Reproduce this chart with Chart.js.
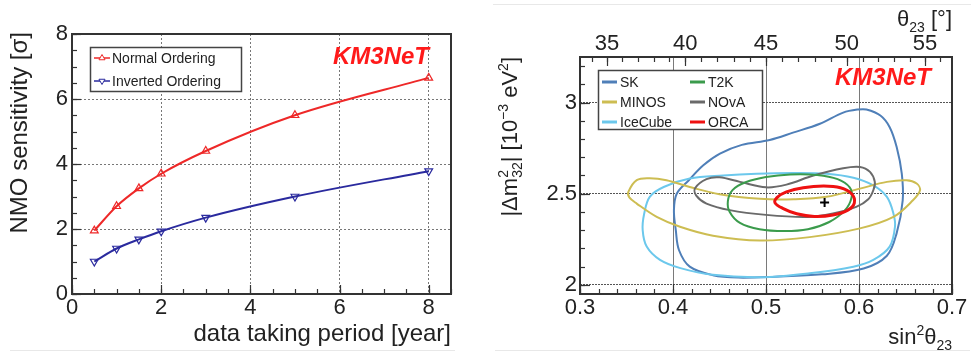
<!DOCTYPE html>
<html>
<head>
<meta charset="utf-8">
<script src="https://cdn.jsdelivr.net/npm/chart.js@4.4.1/dist/chart.umd.min.js"></script>
<style>
  body { margin: 0; background: #fff; }
  canvas { position: absolute; top: 0; }
  #left { left: 0; }
  #right { left: 490px; }
  .edge { position: absolute; height: 1px; background: #e8e8e8; }
</style>
</head>
<body>
<div class="edge" style="left:493px;top:4px;width:478px"></div>
<div class="edge" style="left:10px;top:350px;width:445px"></div>
<div class="edge" style="left:495px;top:350px;width:475px"></div>
<canvas id="left" width="490" height="355"></canvas>
<canvas id="right" width="487" height="355"></canvas>
<script>
// left panel: NMO sensitivity vs. time
var years = [0.5, 1, 1.5, 2, 3, 5, 8]
var normalOrdering = [1.95, 2.7, 3.25, 3.7, 4.4, 5.5, 6.65]
var invertedOrdering = [1.0, 1.4, 1.68, 1.93, 2.35, 3.0, 3.78]
var yearTicks = [0, 2, 4, 6, 8]
var sigmaTicks = [0, 2, 4, 6, 8]

// right panel: contours in (sin2 theta23, dm2_32)
var sinTicks = [0.3, 0.4, 0.5, 0.6, 0.7]
var dm2Ticks = [2, 2.5, 3]
var thetaTicks = [35, 40, 45, 50, 55]
var skContour = [[0.599,2.962],[0.608,2.962],[0.623,2.929],[0.633,2.865],[0.6405,2.756],[0.646,2.61],[0.647,2.464],[0.6405,2.284],[0.63,2.16],[0.605,2.09],[0.56,2.058],[0.51,2.045],[0.47,2.04],[0.443,2.053],[0.418,2.10],[0.4065,2.19],[0.403,2.30],[0.401,2.41],[0.404,2.50],[0.417,2.574],[0.4326,2.656],[0.4505,2.72],[0.474,2.768],[0.504,2.795],[0.529,2.835],[0.558,2.884],[0.583,2.945]]
var minosContour = [[0.352,2.51],[0.361,2.575],[0.375,2.585],[0.393,2.574],[0.418,2.537],[0.45,2.497],[0.4935,2.472],[0.53,2.47],[0.565,2.483],[0.601,2.528],[0.63,2.565],[0.651,2.574],[0.662,2.556],[0.6656,2.519],[0.658,2.464],[0.637,2.373],[0.601,2.31],[0.547,2.262],[0.4935,2.243],[0.443,2.27],[0.4075,2.319],[0.3825,2.373],[0.361,2.446],[0.353,2.48]]
var iceCubeContour = [[0.3674,2.30],[0.369,2.39],[0.375,2.483],[0.39,2.537],[0.418,2.583],[0.454,2.60],[0.49,2.61],[0.529,2.614],[0.565,2.61],[0.594,2.588],[0.6154,2.546],[0.63,2.483],[0.637,2.392],[0.6387,2.319],[0.633,2.21],[0.6154,2.137],[0.594,2.10],[0.547,2.064],[0.4935,2.042],[0.443,2.055],[0.408,2.092],[0.386,2.137],[0.3717,2.21]]
var t2kContour = [[0.459,2.46],[0.464,2.52],[0.478,2.563],[0.5,2.592],[0.526,2.606],[0.555,2.603],[0.577,2.58],[0.59,2.535],[0.592,2.48],[0.585,2.41],[0.568,2.345],[0.545,2.305],[0.52,2.295],[0.493,2.305],[0.472,2.34],[0.461,2.40]]
var novaContour = [[0.4237,2.53],[0.436,2.58],[0.45,2.59],[0.472,2.565],[0.5,2.535],[0.522,2.55],[0.551,2.60],[0.583,2.64],[0.601,2.647],[0.6118,2.62],[0.617,2.565],[0.6154,2.519],[0.61,2.47],[0.597,2.428],[0.572,2.392],[0.544,2.373],[0.5,2.384],[0.461,2.41],[0.436,2.446],[0.425,2.49]]
var orcaContour = [[0.5097,2.45],[0.512,2.48],[0.522,2.51],[0.54,2.533],[0.562,2.542],[0.58,2.533],[0.592,2.5],[0.595,2.45],[0.588,2.41],[0.572,2.383],[0.552,2.375],[0.533,2.39],[0.518,2.42]]
var bestFit = [0.563, 2.452]

var font = "'Liberation Sans', Arial, sans-serif"
var ink = '#222'
Chart.defaults.font.family = font
Chart.defaults.color = ink

function steps(a, b, s) {
  var r = []
  for (var v = a; v <= b + 1e-9; v += s) r.push(+v.toFixed(4))
  return r
}
function fixTicks(list) {
  return function (scale) { scale.ticks = list.map(function (v) { return {value: v} }) }
}
function sin2(deg) { var s = Math.sin(deg * Math.PI / 180); return s * s }

// smooth closed curve: wrap three points and hide the two segments with wrong end tangents
function closedLoop(pts) {
  var n = pts.length
  var all = pts.concat([pts[0], pts[1], pts[2]])
  return {
    data: all.map(function (p) { return {x: p[0], y: p[1]} }),
    hide: function (c) { return (c.p0DataIndex === 0 || c.p0DataIndex === n + 1) ? 'rgba(0,0,0,0)' : undefined }
  }
}

function layoutRich(ctx, parts) {
  var x = 0, pending = 0, out = []
  parts.forEach(function (p) {
    ctx.font = p.s + 'px ' + font
    var w = ctx.measureText(p.t).width
    out.push({p: p, x: x})
    if (p.keep) pending = w
    else { x += Math.max(w, pending); pending = 0 }
  })
  return {items: out, width: x}
}
// right aligned rich text, baseline at (x, y)
function drawRich(ctx, parts, x, y, angle) {
  ctx.save()
  ctx.translate(x, y)
  ctx.rotate(angle || 0)
  ctx.textAlign = 'left'
  ctx.textBaseline = 'alphabetic'
  ctx.fillStyle = ink
  var l = layoutRich(ctx, parts)
  l.items.forEach(function (it) {
    ctx.font = it.p.s + 'px ' + font
    ctx.fillText(it.p.t, it.x - l.width, it.p.dy || 0)
  })
  ctx.restore()
}

function inwardTicks(chart, list) {
  var ctx = chart.ctx, a = chart.chartArea
  ctx.save()
  ctx.strokeStyle = '#333'
  ctx.lineWidth = 1.2
  list.forEach(function (t) {
    var sc = chart.scales[t.scale]
    t.values.forEach(function (v) {
      var p = Math.round(sc.getPixelForValue(v)) + 0.5
      ctx.beginPath()
      if (t.side === 'bottom') { ctx.moveTo(p, a.bottom); ctx.lineTo(p, a.bottom - t.len) }
      if (t.side === 'top') { ctx.moveTo(p, a.top); ctx.lineTo(p, a.top + t.len) }
      if (t.side === 'left') { ctx.moveTo(a.left, p); ctx.lineTo(a.left + t.len, p) }
      ctx.stroke()
    })
  })
  ctx.restore()
}

function drawFrame(chart) {
  var ctx = chart.ctx, a = chart.chartArea
  ctx.save()
  ctx.strokeStyle = '#333'
  ctx.lineWidth = 2
  ctx.strokeRect(a.left, a.top, a.right - a.left, a.bottom - a.top)
  ctx.restore()
}

function brand(ctx, x, y) {
  ctx.save()
  ctx.font = 'italic bold 24px ' + font
  ctx.fillStyle = '#ff1a1a'
  ctx.textAlign = 'left'
  ctx.textBaseline = 'middle'
  ctx.fillText('KM3NeT', x, y)
  ctx.restore()
}

var normalColor = '#ee2828'
var invertedColor = '#2a2a9e'

var leftDecor = {
  id: 'leftDecor',
  afterDraw: function (chart) {
    var ctx = chart.ctx
    inwardTicks(chart, [
      {scale: 'x', side: 'bottom', values: steps(0, 8.5, 0.5), len: 5},
      {scale: 'x', side: 'bottom', values: yearTicks, len: 9},
      {scale: 'y', side: 'left', values: steps(0, 8, 0.5), len: 5},
      {scale: 'y', side: 'left', values: sigmaTicks, len: 9}
    ])
    drawFrame(chart)

    // legend
    ctx.save()
    ctx.fillStyle = '#fff'
    ctx.fillRect(90, 47, 152, 45)
    ctx.strokeStyle = '#444'
    ctx.lineWidth = 1.5
    ctx.strokeRect(90.5, 47.5, 151, 44)
    var rows = [58, 81]
    chart.data.datasets.forEach(function (ds, i) {
      var y = rows[i]
      ctx.strokeStyle = ds.borderColor
      ctx.lineWidth = 1.5
      ctx.beginPath(); ctx.moveTo(94, y); ctx.lineTo(110, y); ctx.stroke()
      ctx.fillStyle = '#fff'
      ctx.lineWidth = 1
      Chart.helpers.drawPoint(ctx, {pointStyle: 'triangle', radius: 3.5, rotation: ds.pointRotation, borderWidth: 1}, 102, y)
      ctx.fillStyle = ink
      ctx.font = '14px ' + font
      ctx.textAlign = 'left'
      ctx.textBaseline = 'middle'
      ctx.fillText(ds.label, 112, y + 1)
    })
    ctx.restore()

    brand(ctx, 333, 57)

    ctx.save()
    ctx.fillStyle = ink
    ctx.font = '24px ' + font
    ctx.textAlign = 'right'
    ctx.textBaseline = 'alphabetic'
    ctx.fillText('data taking period [year]', 451, 341)
    ctx.translate(27, 32)
    ctx.rotate(-Math.PI / 2)
    ctx.fillText('NMO sensitivity [\u03c3]', 0, 0)
    ctx.restore()
  }
}

new Chart(document.getElementById('left').getContext('2d'), {
  type: 'scatter',
  data: {
    datasets: [{
      label: 'Normal Ordering',
      data: years.map(function (x, i) { return {x: x, y: normalOrdering[i]} }),
      showLine: true,
      borderColor: normalColor,
      borderWidth: 2,
      cubicInterpolationMode: 'monotone',
      pointStyle: 'triangle',
      pointRadius: 4.5,
      pointRotation: 0,
      pointBorderWidth: 1.2,
      pointBorderColor: normalColor,
      pointBackgroundColor: 'rgba(255,255,255,0)'
    }, {
      label: 'Inverted Ordering',
      data: years.map(function (x, i) { return {x: x, y: invertedOrdering[i]} }),
      showLine: true,
      borderColor: invertedColor,
      borderWidth: 2,
      cubicInterpolationMode: 'monotone',
      pointStyle: 'triangle',
      pointRadius: 4.5,
      pointRotation: 180,
      pointBorderWidth: 1.2,
      pointBorderColor: invertedColor,
      pointBackgroundColor: 'rgba(255,255,255,0)'
    }]
  },
  options: {
    responsive: false,
    animation: false,
    events: [],
    layout: {padding: {top: 34, right: 39, left: 0, bottom: 0}},
    plugins: {legend: {display: false}, tooltip: {enabled: false}},
    scales: {
      x: {
        type: 'linear', min: 0, max: 8.5,
        afterBuildTicks: fixTicks(yearTicks),
        afterFit: function (s) { s.height = 61 },
        grid: {color: '#777', lineWidth: 1, drawTicks: false},
        border: {display: false, dash: [2, 2]},
        ticks: {font: {size: 22}, padding: 1, maxRotation: 0, autoSkip: false, callback: function (v) { return String(v) }}
      },
      y: {
        type: 'linear', min: 0, max: 8,
        afterBuildTicks: fixTicks(sigmaTicks),
        afterFit: function (s) { s.width = 72 },
        grid: {color: '#777', lineWidth: 1, drawTicks: false},
        border: {display: false, dash: [2, 2]},
        ticks: {font: {size: 22}, padding: 4, autoSkip: false, callback: function (v) { return String(v) }}
      }
    }
  },
  plugins: [leftDecor]
})

var contours = [
  {label: 'ORCA', pts: orcaContour, color: '#ee1111', width: 3},
  {label: 'T2K', pts: t2kContour, color: '#3b9b4c', width: 2},
  {label: 'NOvA', pts: novaContour, color: '#6a6a6a', width: 2},
  {label: 'MINOS', pts: minosContour, color: '#cdbd52', width: 2},
  {label: 'IceCube', pts: iceCubeContour, color: '#6cc8ec', width: 2},
  {label: 'SK', pts: skContour, color: '#4f7fb8', width: 2}
]
var legendSlots = {SK: [0, 0], MINOS: [0, 1], IceCube: [0, 2], T2K: [1, 0], NOvA: [1, 1], ORCA: [1, 2]}

var rightDatasets = [{
  label: 'best fit',
  data: [{x: bestFit[0], y: bestFit[1]}],
  pointStyle: 'cross',
  pointRadius: 4.5,
  pointBorderWidth: 2,
  pointBorderColor: '#000',
  showLine: false
}].concat(contours.map(function (c) {
  var loop = closedLoop(c.pts)
  return {
    label: c.label,
    data: loop.data,
    showLine: true,
    tension: 0.35,
    borderColor: c.color,
    borderWidth: c.width,
    pointRadius: 0,
    segment: {borderColor: loop.hide}
  }
}))

var rightDecor = {
  id: 'rightDecor',
  afterDraw: function (chart) {
    var ctx = chart.ctx
    inwardTicks(chart, [
      {scale: 'x', side: 'bottom', values: steps(0.3, 0.7, 0.02), len: 5},
      {scale: 'x', side: 'bottom', values: sinTicks, len: 10},
      {scale: 'x2', side: 'top', values: steps(34, 56, 1).map(sin2), len: 5},
      {scale: 'x2', side: 'top', values: thetaTicks.map(sin2), len: 9},
      {scale: 'y', side: 'left', values: steps(2, 3.2, 0.1), len: 5},
      {scale: 'y', side: 'left', values: dm2Ticks, len: 10}
    ])
    drawFrame(chart)

    // legend
    ctx.save()
    ctx.fillStyle = '#fff'
    ctx.fillRect(108, 70, 165, 60)
    ctx.strokeStyle = '#444'
    ctx.lineWidth = 1.5
    ctx.strokeRect(108.5, 70.5, 164, 59)
    var colX = [[112, 127, 130], [200, 215, 218]]
    var rowY = [82, 102, 122]
    contours.forEach(function (c) {
      var slot = legendSlots[c.label]
      var cx = colX[slot[0]], y = rowY[slot[1]]
      ctx.strokeStyle = c.color
      ctx.lineWidth = 3
      ctx.beginPath(); ctx.moveTo(cx[0], y); ctx.lineTo(cx[1], y); ctx.stroke()
      ctx.fillStyle = ink
      ctx.font = '14px ' + font
      ctx.textAlign = 'left'
      ctx.textBaseline = 'middle'
      ctx.fillText(c.label, cx[2], y + 1)
    })
    ctx.restore()

    brand(ctx, 345, 78)

    drawRich(ctx, [
      {t: 'sin', s: 22}, {t: '2', s: 14, dy: -9}, {t: '\u03b8', s: 22}, {t: '23', s: 14, dy: 6}
    ], 462, 344)
    drawRich(ctx, [
      {t: '\u03b8', s: 22}, {t: '23', s: 14, dy: 6}, {t: ' [\u00b0]', s: 22}
    ], 462, 26)
    drawRich(ctx, [
      {t: '|\u0394m', s: 22}, {t: '2', s: 14, dy: -9, keep: true}, {t: '32', s: 14, dy: 5},
      {t: '| [10', s: 22}, {t: '\u22123', s: 14, dy: -9}, {t: ' eV', s: 22}, {t: '2', s: 14, dy: -9}, {t: ']', s: 22}
    ], 27, 57, -Math.PI / 2)
  }
}

new Chart(document.getElementById('right').getContext('2d'), {
  type: 'scatter',
  data: {datasets: rightDatasets},
  options: {
    responsive: false,
    animation: false,
    events: [],
    layout: {padding: {top: 0, right: 25, left: 0, bottom: 0}},
    plugins: {legend: {display: false}, tooltip: {enabled: false}},
    scales: {
      x: {
        type: 'linear', position: 'bottom', min: 0.3, max: 0.7,
        afterBuildTicks: fixTicks(sinTicks),
        afterFit: function (s) { s.height = 61 },
        grid: {color: '#7a7a7a', lineWidth: 1, drawTicks: false},
        border: {display: false},
        ticks: {font: {size: 22}, padding: 1, maxRotation: 0, autoSkip: false, callback: function (v) { return String(v) }}
      },
      x2: {
        type: 'linear', position: 'top', min: 0.3, max: 0.7,
        afterBuildTicks: fixTicks(thetaTicks.map(sin2)),
        afterFit: function (s) { s.height = 57 },
        grid: {display: false, drawTicks: false},
        border: {display: false},
        ticks: {font: {size: 22}, padding: 0, maxRotation: 0, autoSkip: false, callback: function (v, i) { return String(thetaTicks[i]) }}
      },
      y: {
        type: 'linear', min: 1.95, max: 3.25,
        afterBuildTicks: fixTicks(dm2Ticks),
        afterFit: function (s) { s.width = 90 },
        grid: {color: '#555', lineWidth: 1, drawTicks: false},
        border: {display: false, dash: [2, 1]},
        ticks: {font: {size: 22}, padding: 3, autoSkip: false, callback: function (v) { return String(v) }}
      }
    }
  },
  plugins: [rightDecor]
})
</script>
</body>
</html>
